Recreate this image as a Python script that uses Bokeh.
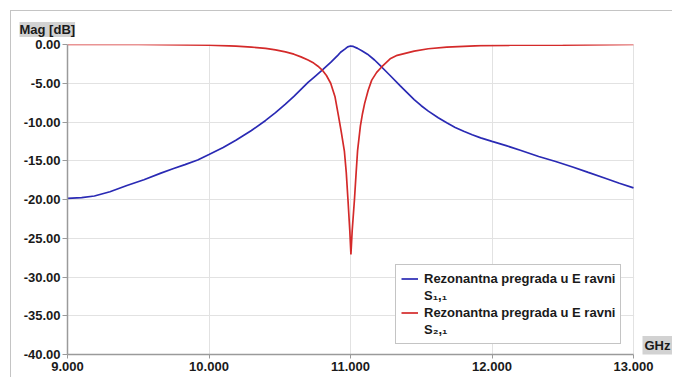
from bokeh.plotting import figure
from bokeh.models import (Range1d, FixedTicker, PrintfTickFormatter, Legend,
                          LegendItem, Label, BoxAnnotation, Title)
from bokeh.embed import file_html
from bokeh.resources import INLINE

# ---- data ----
freq_s11 = [9.00, 9.10, 9.19, 9.30, 9.42, 9.54, 9.66, 9.75, 9.83, 9.92,
            10.00, 10.10, 10.19, 10.30, 10.40, 10.47, 10.54, 10.60, 10.65,
            10.70, 10.75, 10.80, 10.86, 10.91, 10.93, 10.96, 10.98, 11.00,
            11.02, 11.05, 11.08, 11.12, 11.17, 11.22, 11.28, 11.35, 11.40,
            11.45, 11.50, 11.55, 11.62, 11.68, 11.74, 11.80, 11.86, 11.92,
            12.00, 12.10, 12.20, 12.33, 12.45, 12.57, 12.68, 12.80, 12.90,
            13.00]
mag_s11 = [-19.85, -19.75, -19.55, -19.0, -18.2, -17.45, -16.6, -16.0, -15.5,
           -14.9, -14.2, -13.3, -12.35, -11.1, -9.8, -8.8, -7.7, -6.7, -5.8,
           -4.9, -4.1, -3.3, -2.3, -1.4, -1.0, -0.6, -0.3, -0.2,
           -0.25, -0.5, -0.8, -1.25, -2.0, -2.9, -4.0, -5.3, -6.2,
           -7.1, -7.9, -8.6, -9.45, -10.1, -10.7, -11.2, -11.65, -12.05,
           -12.5, -13.05, -13.65, -14.45, -15.1, -15.8, -16.5, -17.25, -17.9,
           -18.5]

freq_s21 = [9.00, 9.50, 9.83, 10.00, 10.19, 10.30, 10.40, 10.47, 10.54,
            10.60, 10.65, 10.70, 10.74, 10.77, 10.80, 10.83, 10.86, 10.89,
            10.915, 10.935, 10.957, 10.97, 10.982, 10.995, 11.003, 11.012,
            11.028, 11.04, 11.05, 11.07, 11.085, 11.10, 11.125, 11.15, 11.185,
            11.22, 11.28, 11.33, 11.45, 11.55, 11.68, 11.92, 12.13, 12.50,
            13.00]
mag_s21 = [0.0, 0.0, -0.05, -0.07, -0.2, -0.33, -0.5, -0.7, -0.95,
           -1.25, -1.6, -2.0, -2.4, -2.8, -3.3, -4.0, -5.0, -6.7,
           -9.2, -11.3, -13.8, -16.5, -20.0, -24.0, -27.1, -24.0,
           -20.0, -16.5, -13.7, -10.5, -8.9, -7.6, -5.9, -4.6, -3.6,
           -2.9, -1.85, -1.4, -0.85, -0.55, -0.35, -0.15, -0.1, -0.07,
           0.0]

x_ticks = [9, 10, 11, 12, 13]
y_ticks = [-40, -35, -30, -25, -20, -15, -10, -5, 0]

series_name = "Rezonantna pregrada u E ravni"
sub_s11 = "S\u2081,\u2081"
sub_s21 = "S\u2082,\u2081"
y_unit = "Mag [dB]"
x_unit = "GHz"

X_MIN, X_MAX = 9, 13
Y_MIN, Y_MAX = -40, 0

BLUE = "#2a2ab4"
RED = "#d42a2a"
FONT = "Liberation Sans"
TXT = "#1a1a1a"
AXIS = "#9a9a9a"
GRID = "#e2e2e2"
UNIT_BG = "#d2d2d2"

# frame extends a bit beyond 13 GHz so the unit box fits on the right
x_pad = 40 / 141.5

p = figure(width=662, height=367, output_backend="svg", toolbar_location=None,
           x_range=Range1d(X_MIN, X_MAX + x_pad), y_range=Range1d(Y_MIN, Y_MAX),
           min_border_left=56, min_border_right=0, min_border_top=33,
           min_border_bottom=24)
p.styles = {"margin-left": "10px", "margin-top": "10px",
            "border-left": "1px solid #c4c4c4", "border-top": "1px solid #c4c4c4"}
p.outline_line_color = None
p.background_fill_color = "white"
p.border_fill_color = "white"

# axes
for ax in (p.xaxis[0], p.yaxis[0]):
    ax.axis_line_color = AXIS
    ax.axis_line_width = 1.5
    ax.major_tick_line_color = AXIS
    ax.minor_tick_line_color = None
    ax.major_tick_in = 0
    ax.major_label_text_font = FONT
    ax.major_label_text_font_style = "bold"
    ax.major_label_text_font_size = "13px"
    ax.major_label_text_color = TXT

p.xaxis.bounds = (X_MIN, X_MAX)
p.xaxis.ticker = FixedTicker(ticks=x_ticks)
p.yaxis.ticker = FixedTicker(ticks=y_ticks)
p.xaxis.formatter = PrintfTickFormatter(format="%.3f")
p.yaxis.formatter = PrintfTickFormatter(format="%.2f")
p.xaxis.major_tick_out = 4
p.xaxis.major_label_standoff = 3
p.yaxis.major_tick_out = 5
p.yaxis.major_label_standoff = 2

p.xgrid.grid_line_color = GRID
p.ygrid.grid_line_color = GRID
p.xgrid.ticker = FixedTicker(ticks=x_ticks)
p.ygrid.ticker = FixedTicker(ticks=y_ticks)

# blank out grid beyond 13 GHz
p.add_layout(BoxAnnotation(left=X_MAX + 0.6 / 141.5, fill_color="white",
                           fill_alpha=1, line_color=None, level="underlay"))

r1 = p.line(freq_s11, mag_s11, line_color=BLUE, line_width=1.7)
r2 = p.line(freq_s21, mag_s21, line_color=RED, line_width=1.7)
blank = p.line([], [], line_alpha=0)

legend = Legend(items=[LegendItem(label=series_name, renderers=[r1]),
                       LegendItem(label=sub_s11, renderers=[blank]),
                       LegendItem(label=series_name, renderers=[r2]),
                       LegendItem(label=sub_s21, renderers=[blank])],
                location=(328, 10))
legend.label_text_font = FONT
legend.label_text_font_style = "bold"
legend.label_text_font_size = "13px"
legend.label_text_color = TXT
legend.label_height = 17
legend.glyph_height = 17
legend.glyph_width = 17
legend.label_standoff = 6
legend.spacing = 0
legend.padding = 5
legend.margin = 0
legend.border_line_color = "#8a8a8a"
legend.border_line_width = 1
legend.background_fill_color = "white"
legend.background_fill_alpha = 1
p.add_layout(legend)

# unit boxes
p.add_layout(Title(text=y_unit, align="left", offset=-48, standoff=15,
                   text_font=FONT, text_font_style="bold", text_font_size="13px",
                   text_color=TXT, background_fill_color=UNIT_BG, padding=0),
             "above")
p.add_layout(Label(x=575, y=9, x_units="screen", y_units="screen",
                   text=x_unit, text_baseline="middle", text_align="left",
                   text_font=FONT, text_font_style="bold", text_font_size="13px",
                   text_color=TXT, background_fill_color=UNIT_BG, padding=2))

open("out.html", "w").write(file_html(p, INLINE))
